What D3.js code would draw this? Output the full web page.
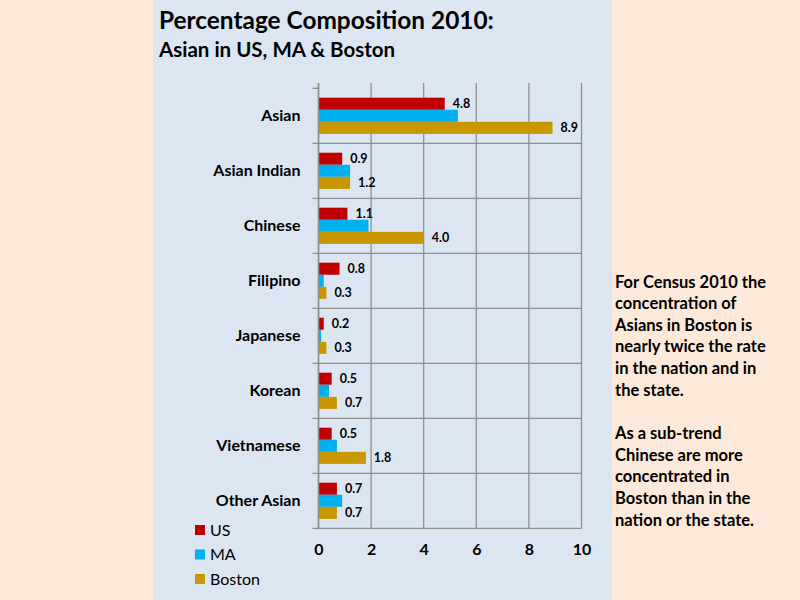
<!DOCTYPE html>
<html><head><meta charset="utf-8">
<script src="https://cdn.jsdelivr.net/npm/d3@7"></script>
<style>
html,body{margin:0;padding:0;background:#FDE9D9;}
svg{display:block;font-family:Lato,"Noto Sans",sans-serif;}
</style></head>
<body><svg id="c" width="800" height="600"></svg>
<script>
const categories = ["Asian","Asian Indian","Chinese","Filipino","Japanese","Korean","Vietnamese","Other Asian"];
const seriesNames = ["US","MA","Boston"];
const usValues = [4.8,0.9,1.1,0.8,0.2,0.5,0.5,0.7];
const maValues = [5.3,1.2,1.9,0.2,0.1,0.4,0.7,0.9];
const bostonValues = [8.9,1.2,4.0,0.3,0.3,0.7,1.8,0.7];
const xTicks = [0,2,4,6,8,10];
const colors = ["#C00000","#00B0F0","#C99700"];
const showLabel = [true,false,true];
const titleText = "Percentage Composition 2010:";
const subtitleText = "Asian in US, MA & Boston";
const noteLines = ["For Census 2010 the","concentration of","Asians in Boston is","nearly twice the rate","in the nation and in","the state.","","As a sub-trend","Chinese are more","concentrated in","Boston than in the","nation or the state."];

const svg = d3.select("#c");
svg.append("rect").attr("x",0).attr("y",0).attr("width",800).attr("height",600).attr("fill","#FDE9D9");
svg.append("rect").attr("x",153).attr("y",0).attr("width",459).attr("height",600).attr("fill","#DCE6F2");

svg.append("text").attr("x",159).attr("y",29).attr("font-size",24.4).attr("font-weight",700)
  .attr("fill","#000").text(titleText);
svg.append("text").attr("x",159).attr("y",57).attr("font-size",20.5).attr("font-weight",700)
  .attr("fill","#000").text(subtitleText);

const x = d3.scaleLinear().domain([0,10]).range([318.5,581.5]);
const y = d3.scaleBand().domain(categories).range([88.3,528.3]).padding(0);
const inner = d3.scaleBand().domain(seriesNames).range([9.4, y.bandwidth()-9.4]).padding(0);
const plotTop = 83;

const g = svg.append("g");
g.selectAll("line.vg").data(xTicks).join("line").attr("class","vg")
  .attr("x1",d=>x(d)).attr("x2",d=>x(d)).attr("y1",plotTop).attr("y2",y.range()[1])
  .attr("stroke","#8F8F8F").attr("stroke-width",1.3);
const bounds = categories.map(c=>y(c)).slice(1).concat([y.range()[1]]);
g.selectAll("line.hg").data(bounds).join("line").attr("class","hg")
  .attr("x1",x(0)-6).attr("x2",x(10)).attr("y1",d=>d).attr("y2",d=>d)
  .attr("stroke","#8F8F8F").attr("stroke-width",1.3);
g.append("line").attr("x1",x(0)-6).attr("x2",x(0)).attr("y1",y.range()[0]).attr("y2",y.range()[0])
  .attr("stroke","#8F8F8F").attr("stroke-width",1.3);

const series = [usValues,maValues,bostonValues];
series.forEach((vals,si)=>{
  const sg = g.append("g");
  sg.selectAll("rect").data(categories).join("rect")
    .attr("x",x(0)).attr("y",c=>y(c)+inner(seriesNames[si]))
    .attr("width",(c,i)=>x(vals[i])-x(0)).attr("height",inner.bandwidth())
    .attr("fill",colors[si]);
  if(showLabel[si]){
    sg.selectAll("text").data(categories).join("text")
      .attr("x",(c,i)=>x(vals[i])+8).attr("y",c=>y(c)+inner(seriesNames[si])+inner.bandwidth()/2)
      .attr("dy","0.35em").attr("font-size",12.5).attr("font-weight",700).attr("fill","#000")
      .text((c,i)=>vals[i].toFixed(1));
  }
});

g.append("line").attr("x1",x(0)).attr("x2",x(0)).attr("y1",plotTop).attr("y2",y.range()[1])
  .attr("stroke","#8F8F8F").attr("stroke-width",1.5);

const yAxis = d3.axisLeft(y).tickSize(0).tickPadding(18);
const ya = svg.append("g").attr("transform",`translate(${x(0)},0)`).call(yAxis);
ya.select(".domain").remove();
ya.selectAll("text").attr("font-size",16).attr("font-weight",700).attr("fill","#000")
  .attr("font-family","Lato,'Noto Sans',sans-serif");

const xAxis = d3.axisBottom(x).tickValues(xTicks).tickSize(0).tickPadding(15).tickFormat(d3.format("d"));
const xa = svg.append("g").attr("transform",`translate(0,${y.range()[1]})`).call(xAxis);
xa.select(".domain").remove();
xa.selectAll("text").attr("font-size",16).attr("font-weight",700).attr("fill","#000")
  .attr("font-family","Lato,'Noto Sans',sans-serif");

const leg = svg.append("g");
seriesNames.forEach((s,i)=>{
  const ly = 530 + i*24.5;
  leg.append("rect").attr("x",195).attr("y",ly-5).attr("width",10).attr("height",10).attr("fill",colors[i]);
  leg.append("text").attr("x",210).attr("y",ly).attr("dy","0.35em").attr("font-size",16)
    .attr("fill","#000").text(s);
});

const note = svg.append("text").attr("font-size",16.5).attr("font-weight",700).attr("fill","#000");
noteLines.forEach((t,i)=>{
  note.append("tspan").attr("x",615).attr("y",287.5 + i*21.65).text(t);
});
</script></body></html>
